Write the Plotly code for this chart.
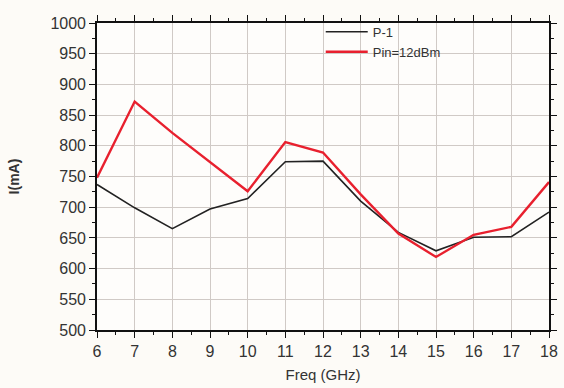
import plotly.graph_objects as go

freq = [6, 7, 8, 9, 10, 11, 12, 13, 14, 15, 16, 17, 18]
p1 = [737, 699, 665, 697, 714, 774, 775, 710, 659, 629, 651, 652, 692]
pin12 = [748, 872, 821, 773, 726, 806, 789, 721, 657, 619, 655, 668, 741]

x_ticks = list(range(6, 19))
y_ticks = list(range(500, 1001, 50))

fig = go.Figure()
fig.add_trace(go.Scatter(x=freq, y=p1, mode="lines", name="P-1",
                         line=dict(color="#222222", width=1.6)))
fig.add_trace(go.Scatter(x=freq, y=pin12, mode="lines", name="Pin=12dBm",
                         line=dict(color="#e8202e", width=2.4)))

axis_common = dict(
    showline=True, linecolor="#111111", linewidth=1.6, mirror="allticks",
    ticks="outside", ticklen=6, tickwidth=1.4, tickcolor="#111111",
    showgrid=True, gridcolor="#d0cac6", gridwidth=1,
    zeroline=False,
    tickfont=dict(family="Liberation Sans, Arial", size=16, color="#333333"),
)

fig.update_xaxes(range=[6, 18], tickvals=x_ticks, ticktext=[str(v) for v in x_ticks],
                 minor=dict(dtick=0.5, ticks="outside", ticklen=3, tickcolor="#111111", showgrid=False),
                 title=dict(text="Freq (GHz)", font=dict(family="Liberation Sans, Arial", size=15, color="#333333"),
                            standoff=10),
                 **axis_common)
fig.update_yaxes(range=[500, 1000], tickvals=y_ticks, ticktext=[str(v) for v in y_ticks],
                 minor=dict(dtick=25, ticks="outside", ticklen=3, tickcolor="#111111", showgrid=False),
                 title=dict(text="<b>I(mA)</b>", font=dict(family="Liberation Sans, Arial", size=14, color="#333333"),
                            standoff=28),
                 **axis_common)

fig.update_layout(
    width=564, height=388,
    margin=dict(l=97, r=7, t=23, b=57),
    paper_bgcolor="#fdfbf7",
    plot_bgcolor="#fefdfb",
    showlegend=True,
    legend=dict(x=0.495, y=1.02, xanchor="left", yanchor="top",
                bgcolor="rgba(0,0,0,0)", borderwidth=0,
                font=dict(family="Liberation Sans, Arial", size=13, color="#333333"),
                tracegroupgap=0, itemwidth=42),
)

fig.write_html("out.html")
